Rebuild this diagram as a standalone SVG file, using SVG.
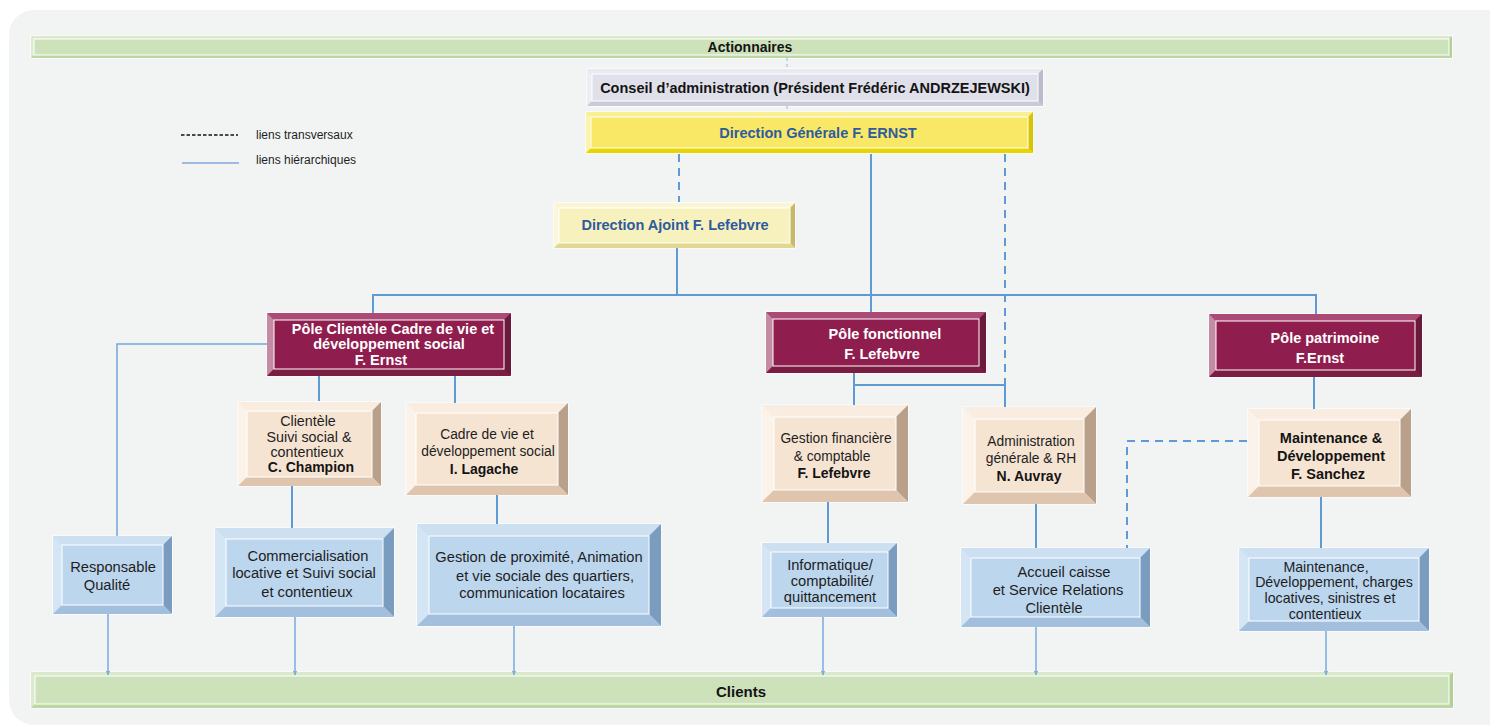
<svg xmlns="http://www.w3.org/2000/svg" width="1490" height="726" viewBox="0 0 1490 726">
<style>
text{font-family:"Liberation Sans",Arial,sans-serif;text-anchor:middle;dominant-baseline:central}
.tb{font-size:14.5px;font-weight:bold;fill:#141414}
.tr{font-size:13.8px;fill:#1e1e1e}
.tq{font-size:14.7px;fill:#1e1e1e}
.ts{font-size:14.2px;fill:#1e1e1e}
.tw{font-size:14.5px;font-weight:bold;fill:#ffffff}
.tbl{font-size:14.5px;font-weight:bold;fill:#2e5b9f}
.leg{font-size:12px;fill:#1e1e1e;text-anchor:start}
.o{stroke:#ffffff;stroke-width:1}
.i{stroke:#ffffff;stroke-width:1}
.green .o,.green .i{fill:#cde1ba}.green .t{fill:#d9e9ca}.green .l{fill:#dcebcd}.green .r{fill:#b2cf97}.green .b{fill:#bcd7a4}
.grey .o,.grey .i{fill:#dfe0ea}.grey .t{fill:#e9eaf0}.grey .l{fill:#eceef3}.grey .r{fill:#babcc9}.grey .b{fill:#c9cbd7}
.dg .o,.dg .i{fill:#f9e866}.dg .t{fill:#fbef95}.dg .l{fill:#fcf2a8}.dg .r{fill:#d8c400}.dg .b{fill:#e8d400}
.aj .o,.aj .i{fill:#f7f1bd}.aj .t{fill:#faf6d3}.aj .l{fill:#fbf7da}.aj .r{fill:#c6ba6a}.aj .b{fill:#e1d78f}
.pole .o,.pole .i{fill:#8f1d4d}.pole .t{fill:#ab4a74}.pole .l{fill:#c58aa4}.pole .r{fill:#6b1a3b}.pole .b{fill:#7b1c43}
.peach .o,.peach .i{fill:#f6e4d3}.peach .t{fill:#f9ede2}.peach .l{fill:#fbf2ea}.peach .r{fill:#b8a08a}.peach .b{fill:#dfc4ae}
.blue .o,.blue .i{fill:#bcd6ee}.blue .t{fill:#cde0f2}.blue .l{fill:#d4e5f5}.blue .r{fill:#7a9dbf}.blue .b{fill:#a2bfdd}
.h{fill:none;stroke:#5e9bd6;stroke-width:2}
.hl{fill:none;stroke:#72a6dc;stroke-width:1.5}
.d{fill:none;stroke:#5e9bd6;stroke-width:2;stroke-dasharray:8 6}
.dt{fill:none;stroke:#a9c7e6;stroke-width:1.3;stroke-dasharray:3 3}
.a{fill:none;stroke:#82aee0;stroke-width:1.6;marker-end:url(#arr)}
</style>
<defs>
<marker id="arr" viewBox="0 0 10 10" refX="9" refY="5" markerWidth="5" markerHeight="5" orient="auto" markerUnits="userSpaceOnUse">
<path d="M0,0 L10,5 L0,10 z" fill="#82aee0"/>
</marker>
</defs>
<rect x="0" y="0" width="1490" height="726" fill="#ffffff"/>
<rect x="9" y="10" width="1520" height="715" rx="25" ry="25" fill="#f2f4f3"/>

<g id="legend">
<line x1="181" y1="135" x2="238" y2="135" stroke="#111" stroke-width="1.5" stroke-dasharray="3.5 2"/>
<text class="leg" x="256" y="135">liens transversaux</text>
<line x1="182" y1="163" x2="239" y2="163" stroke="#7fa9dc" stroke-width="1.5"/>
<text class="leg" x="256" y="160">liens hiérarchiques</text>
</g>

<g id="n-actionnaires" class="green">
<rect class="o" x="31" y="36" width="1421" height="22"/>
<polygon class="t" points="31,36 1452,36 1449,39 34,39"/>
<polygon class="l" points="31,36 34,39 34,55 31,58"/>
<polygon class="r" points="1452,36 1452,58 1449,55 1449,39"/>
<polygon class="b" points="31,58 1452,58 1449,55 34,55"/>
<rect class="i" x="34" y="39" width="1415" height="16"/>
<text class="tb" x="750" y="47" style="font-size:14px">Actionnaires</text>
</g>

<g id="n-conseil" class="grey">
<rect class="o" x="587" y="69" width="456" height="37"/>
<polygon class="t" points="587,69 1043,69 1038,74 592,74"/>
<polygon class="l" points="587,69 592,74 592,101 587,106"/>
<polygon class="r" points="1043,69 1043,106 1038,101 1038,74"/>
<polygon class="b" points="587,106 1043,106 1038,101 592,101"/>
<rect class="i" x="592" y="74" width="446" height="27"/>
<text class="tb" x="815" y="88">Conseil d’administration (Président Frédéric ANDRZEJEWSKI)</text>
</g>

<g id="n-dg" class="dg">
<rect class="o" x="586" y="112" width="447" height="41"/>
<polygon class="t" points="586,112 1033,112 1028,117 591,117"/>
<polygon class="l" points="586,112 591,117 591,148 586,153"/>
<polygon class="r" points="1033,112 1033,153 1028,148 1028,117"/>
<polygon class="b" points="586,153 1033,153 1028,148 591,148"/>
<rect class="i" x="591" y="117" width="437" height="31"/>
<text class="tbl" x="818" y="133">Direction Générale F. ERNST</text>
</g>

<g id="n-ajoint" class="aj">
<rect class="o" x="554" y="203" width="241" height="45"/>
<polygon class="t" points="554,203 795,203 790,208 559,208"/>
<polygon class="l" points="554,203 559,208 559,243 554,248"/>
<polygon class="r" points="795,203 795,248 790,243 790,208"/>
<polygon class="b" points="554,248 795,248 790,243 559,243"/>
<rect class="i" x="559" y="208" width="231" height="35"/>
<text class="tbl" x="675" y="225">Direction Ajoint F. Lefebvre</text>
</g>

<g id="n-pole-clientele" class="pole">
<rect class="o" x="267" y="313" width="244" height="63"/>
<polygon class="t" points="267,313 511,313 504,320 274,320"/>
<polygon class="l" points="267,313 274,320 274,369 267,376"/>
<polygon class="r" points="511,313 511,376 504,369 504,320"/>
<polygon class="b" points="267,376 511,376 504,369 274,369"/>
<rect class="i" x="274" y="320" width="230" height="49"/>
<text class="tw" x="393" y="329">Pôle Clientèle Cadre de vie et</text>
<text class="tw" x="389" y="344">développement social</text>
<text class="tw" x="381" y="360">F. Ernst</text>
</g>

<g id="n-pole-fonctionnel" class="pole">
<rect class="o" x="766" y="312" width="220" height="61"/>
<polygon class="t" points="766,312 986,312 979,319 773,319"/>
<polygon class="l" points="766,312 773,319 773,366 766,373"/>
<polygon class="r" points="986,312 986,373 979,366 979,319"/>
<polygon class="b" points="766,373 986,373 979,366 773,366"/>
<rect class="i" x="773" y="319" width="206" height="47"/>
<text class="tw" x="885" y="334">Pôle fonctionnel</text>
<text class="tw" x="882" y="354">F. Lefebvre</text>
</g>

<g id="n-pole-patrimoine" class="pole">
<rect class="o" x="1209" y="314" width="213" height="63"/>
<polygon class="t" points="1209,314 1422,314 1415,321 1216,321"/>
<polygon class="l" points="1209,314 1216,321 1216,370 1209,377"/>
<polygon class="r" points="1422,314 1422,377 1415,370 1415,321"/>
<polygon class="b" points="1209,377 1422,377 1415,370 1216,370"/>
<rect class="i" x="1216" y="321" width="199" height="49"/>
<text class="tw" x="1325" y="338">Pôle patrimoine</text>
<text class="tw" x="1320" y="358">F.Ernst</text>
</g>

<g id="n-clientele" class="peach">
<rect class="o" x="238" y="402" width="143" height="84"/>
<polygon class="t" points="238,402 381,402 372,411 247,411"/>
<polygon class="l" points="238,402 247,411 247,477 238,486"/>
<polygon class="r" points="381,402 381,486 372,477 372,411"/>
<polygon class="b" points="238,486 381,486 372,477 247,477"/>
<rect class="i" x="247" y="411" width="125" height="66"/>
<text class="tr" x="308" y="421" style="font-size:14.3px">Clientèle</text>
<text class="tr" x="309" y="437" style="font-size:14.3px">Suivi social &amp;</text>
<text class="tr" x="307" y="452" style="font-size:14.3px">contentieux</text>
<text class="tb" x="311" y="467" style="font-size:14px">C. Champion</text>
</g>

<g id="n-cadre" class="peach">
<rect class="o" x="406" y="403" width="162" height="92"/>
<polygon class="t" points="406,403 568,403 558,413 416,413"/>
<polygon class="l" points="406,403 416,413 416,485 406,495"/>
<polygon class="r" points="568,403 568,495 558,485 558,413"/>
<polygon class="b" points="406,495 568,495 558,485 416,485"/>
<rect class="i" x="416" y="413" width="142" height="72"/>
<text class="tr" x="487" y="434">Cadre de vie et</text>
<text class="tr" x="488" y="451">développement social</text>
<text class="tb" x="484" y="469" style="font-size:14px">I. Lagache</text>
</g>

<g id="n-gestion-fin" class="peach">
<rect class="o" x="762" y="405" width="146" height="97"/>
<polygon class="t" points="762,405 908,405 896,417 774,417"/>
<polygon class="l" points="762,405 774,417 774,490 762,502"/>
<polygon class="r" points="908,405 908,502 896,490 896,417"/>
<polygon class="b" points="762,502 908,502 896,490 774,490"/>
<rect class="i" x="774" y="417" width="122" height="73"/>
<text class="tr" x="836" y="438">Gestion financière</text>
<text class="tr" x="832" y="456">&amp; comptable</text>
<text class="tb" x="834" y="473" style="font-size:14px">F. Lefebvre</text>
</g>

<g id="n-admin" class="peach">
<rect class="o" x="963" y="407" width="133" height="97"/>
<polygon class="t" points="963,407 1096,407 1084,419 975,419"/>
<polygon class="l" points="963,407 975,419 975,492 963,504"/>
<polygon class="r" points="1096,407 1096,504 1084,492 1084,419"/>
<polygon class="b" points="963,504 1096,504 1084,492 975,492"/>
<rect class="i" x="975" y="419" width="109" height="73"/>
<text class="tr" x="1031" y="441">Administration</text>
<text class="tr" x="1031" y="458">générale &amp; RH</text>
<text class="tb" x="1029" y="476" style="font-size:14px">N. Auvray</text>
</g>

<g id="n-maint-dev" class="peach">
<rect class="o" x="1248" y="409" width="163" height="88"/>
<polygon class="t" points="1248,409 1411,409 1400,420 1259,420"/>
<polygon class="l" points="1248,409 1259,420 1259,486 1248,497"/>
<polygon class="r" points="1411,409 1411,497 1400,486 1400,420"/>
<polygon class="b" points="1248,497 1411,497 1400,486 1259,486"/>
<rect class="i" x="1259" y="420" width="141" height="66"/>
<text class="tb" x="1331" y="438">Maintenance &amp;</text>
<text class="tb" x="1331" y="456">Développement</text>
<text class="tb" x="1328" y="474">F. Sanchez</text>
</g>

<g id="n-qualite" class="blue">
<rect class="o" x="53" y="536" width="119" height="78"/>
<polygon class="t" points="53,536 172,536 163,545 62,545"/>
<polygon class="l" points="53,536 62,545 62,605 53,614"/>
<polygon class="r" points="172,536 172,614 163,605 163,545"/>
<polygon class="b" points="53,614 172,614 163,605 62,605"/>
<rect class="i" x="62" y="545" width="101" height="60"/>
<text class="tq" x="113" y="567">Responsable</text>
<text class="tq" x="107" y="585">Qualité</text>
</g>

<g id="n-commercialisation" class="blue">
<rect class="o" x="215" y="528" width="179" height="89"/>
<polygon class="t" points="215,528 394,528 383,539 226,539"/>
<polygon class="l" points="215,528 226,539 226,606 215,617"/>
<polygon class="r" points="394,528 394,617 383,606 383,539"/>
<polygon class="b" points="215,617 394,617 383,606 226,606"/>
<rect class="i" x="226" y="539" width="157" height="67"/>
<text class="tq" x="308" y="556">Commercialisation</text>
<text class="tq" x="304" y="573">locative et Suivi social</text>
<text class="tq" x="307" y="592">et contentieux</text>
</g>

<g id="n-proximite" class="blue">
<rect class="o" x="417" y="524" width="244" height="102"/>
<polygon class="t" points="417,524 661,524 649,536 429,536"/>
<polygon class="l" points="417,524 429,536 429,614 417,626"/>
<polygon class="r" points="661,524 661,626 649,614 649,536"/>
<polygon class="b" points="417,626 661,626 649,614 429,614"/>
<rect class="i" x="429" y="536" width="220" height="78"/>
<text class="tq" x="539" y="557">Gestion de proximité, Animation</text>
<text class="tq" x="545" y="576">et vie sociale des quartiers,</text>
<text class="tq" x="542" y="593">communication locataires</text>
</g>

<g id="n-informatique" class="blue">
<rect class="o" x="762" y="543" width="135" height="74"/>
<polygon class="t" points="762,543 897,543 888,552 771,552"/>
<polygon class="l" points="762,543 771,552 771,608 762,617"/>
<polygon class="r" points="897,543 897,617 888,608 888,552"/>
<polygon class="b" points="762,617 897,617 888,608 771,608"/>
<rect class="i" x="771" y="552" width="117" height="56"/>
<text class="tq" x="830" y="565">Informatique/</text>
<text class="tq" x="832" y="581">comptabilité/</text>
<text class="tq" x="830" y="597">quittancement</text>
</g>

<g id="n-accueil" class="blue">
<rect class="o" x="961" y="548" width="189" height="79"/>
<polygon class="t" points="961,548 1150,548 1140,558 971,558"/>
<polygon class="l" points="961,548 971,558 971,617 961,627"/>
<polygon class="r" points="1150,548 1150,627 1140,617 1140,558"/>
<polygon class="b" points="961,627 1150,627 1140,617 971,617"/>
<rect class="i" x="971" y="558" width="169" height="59"/>
<text class="tq" x="1064" y="572">Accueil caisse</text>
<text class="tq" x="1058" y="590">et Service Relations</text>
<text class="tq" x="1054" y="608">Clientèle</text>
</g>

<g id="n-maintenance" class="blue">
<rect class="o" x="1239" y="548" width="190" height="83"/>
<polygon class="t" points="1239,548 1429,548 1419,558 1249,558"/>
<polygon class="l" points="1239,548 1249,558 1249,621 1239,631"/>
<polygon class="r" points="1429,548 1429,631 1419,621 1419,558"/>
<polygon class="b" points="1239,631 1429,631 1419,621 1249,621"/>
<rect class="i" x="1249" y="558" width="170" height="63"/>
<text class="ts" x="1326" y="567">Maintenance,</text>
<text class="ts" x="1334" y="582">Développement, charges</text>
<text class="ts" x="1330" y="598">locatives, sinistres et</text>
<text class="ts" x="1325" y="614">contentieux</text>
</g>

<g id="n-clients" class="green">
<rect class="o" x="31" y="672" width="1422" height="36"/>
<polygon class="t" points="31,672 1453,672 1449,676 35,676"/>
<polygon class="l" points="31,672 35,676 35,704 31,708"/>
<polygon class="r" points="1453,672 1453,708 1449,704 1449,676"/>
<polygon class="b" points="31,708 1453,708 1449,704 35,704"/>
<rect class="i" x="35" y="676" width="1414" height="28"/>
<text class="tb" x="741" y="691" style="font-size:15px">Clients</text>
</g>

<g id="connectors">
<line class="dt" x1="787" y1="58" x2="787" y2="69"/>
<line class="dt" x1="787" y1="106" x2="787" y2="112"/>
<line class="d" x1="679" y1="154" x2="679" y2="202"/>
<line class="h" x1="871" y1="154" x2="871" y2="312"/>
<path class="d" d="M1005,154 V384"/>
<path class="h" d="M1005,384 V407"/>
<line class="h" x1="677" y1="248" x2="677" y2="295"/>
<path class="h" d="M373,313 V295 H1316 V314"/>
<path class="hl" d="M267,344 H117 V536"/>
<line class="h" x1="319" y1="376" x2="319" y2="401"/>
<line class="h" x1="455" y1="376" x2="455" y2="403"/>
<line class="h" x1="292" y1="486" x2="292" y2="528"/>
<line class="h" x1="497" y1="495" x2="497" y2="524"/>
<path class="h" d="M854,373 V405 M854,385 H1005"/>
<line class="h" x1="828" y1="502" x2="828" y2="543"/>
<line class="h" x1="1036" y1="504" x2="1036" y2="548"/>
<line class="h" x1="1314" y1="377" x2="1314" y2="409"/>
<line class="h" x1="1321" y1="497" x2="1321" y2="548"/>
<path class="d" d="M1247,441 H1127 V548"/>
<line class="a" x1="108" y1="614" x2="108" y2="675"/>
<line class="a" x1="295" y1="617" x2="295" y2="675"/>
<line class="a" x1="514" y1="626" x2="514" y2="675"/>
<line class="a" x1="823" y1="617" x2="823" y2="675"/>
<line class="a" x1="1036" y1="627" x2="1036" y2="675"/>
<line class="a" x1="1326" y1="631" x2="1326" y2="675"/>
</g>
</svg>
